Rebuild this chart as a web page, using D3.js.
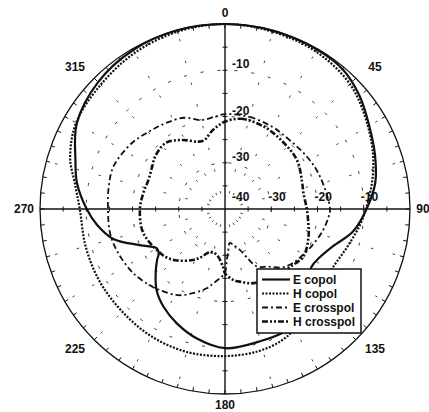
<!DOCTYPE html>
<html>
<head>
<meta charset="utf-8">
<script src="https://cdn.jsdelivr.net/npm/d3@7"></script>
<style>
  html, body { margin: 0; padding: 0; background: #fff; }
  svg { display: block; }
  text { font-family: "Liberation Sans", Arial, Helvetica, sans-serif; font-weight: bold; fill: #111; }
</style>
</head>
<body>
<svg id="chart" width="429" height="412"></svg>
<script>
// Radiation pattern, level in dB vs. angle in degrees (0 = boresight, clockwise)
const eCopolAngles = [0, 15, 30, 40, 50, 60, 70, 80, 90, 100, 109, 117, 124, 135, 145, 153, 166, 180, 192, 203, 212, 220, 227, 233, 236, 240, 247, 255, 263, 270, 280, 288, 300, 315, 330, 345];
const eCopolDb     = [0, -0.1, -0.2, -0.5, -2, -4, -5.5, -7, -9.4, -11.9, -15.3, -17, -17.5, -15, -12.5, -10.6, -10.4, -9.9, -11.3, -13.2, -15, -17, -19.5, -21.6, -22.7, -23, -20, -15, -12.1, -10.1, -7.5, -6, -3, -1.2, -0.3, 0];

const hCopolAngles = [0, 15, 30, 45, 60, 75, 93, 105, 120, 135, 150, 157, 167, 180, 195, 210, 225, 240, 255, 270, 280, 288, 300, 315, 330, 345];
const hCopolDb     = [0, -0.3, -0.7, -1.8, -4.3, -6.8, -10, -12, -13.5, -12.2, -10, -9, -8.4, -8.2, -8, -8.2, -8.6, -8.7, -8.8, -8.6, -7, -4.8, -2.8, -2, -1, -0.3];

const eCrossAngles = [0, 15, 30, 38, 57, 71, 90, 95, 103, 113, 121, 129, 136, 143, 151, 156, 160, 167, 172, 176, 178, 180, 183, 189, 193, 201, 209, 219, 223, 235, 248, 258, 270, 281, 291, 305, 315, 325, 336, 345, 354];
const eCrossDb     = [-19.5, -19.4, -19.5, -19.6, -19, -18.3, -17.3, -17.6, -18.4, -19.6, -20.5, -21.3, -22.4, -24.4, -25.8, -28.7, -30.6, -32, -32.6, -30.5, -29, -26.2, -25.3, -23.7, -22.4, -20.5, -18.7, -17.5, -17, -15.8, -15, -14.6, -14.7, -14.4, -14.2, -15.3, -16.5, -17.4, -18.4, -20.1, -19.9];

const hCrossAngles = [0, 10, 25, 40, 56, 70, 79, 90, 100, 108, 121, 132, 145, 155, 161, 167, 173, 180, 182, 190, 199, 206, 212, 223, 231, 239, 248, 256, 270, 281, 291, 300, 307, 318, 328, 338, 343, 350, 355];
const hCrossDb     = [-21.1, -20.2, -20.3, -20.8, -21.2, -22.3, -22.7, -22.3, -21.7, -21, -20.2, -21.2, -22, -22.6, -23, -23.8, -24.5, -26.1, -27.5, -29.9, -30.2, -28.5, -27, -24.8, -23.5, -22.8, -22, -21.5, -21.6, -22, -22.3, -21.8, -21.1, -20.8, -22.4, -24.3, -24.5, -23, -22];

const seriesNames = ["E copol", "H copol", "E crosspol", "H crosspol"];
const angleLabels = [0, 45, 90, 135, 180, 225, 270, 315];
const ringLevels = [-30, -20, -10];
const verticalLevelLabels = [-40, -30, -20, -10];
const horizontalLevelLabels = [-30, -20, -10];
const dbMin = -40, dbMax = 0;

const svg = d3.select("#chart");
const cx = 225, cy = 209, R = 185;
const g = svg.append("g").attr("transform", `translate(${cx},${cy})`);

const r = d3.scaleLinear().domain([dbMin, dbMax]).range([0, R]);
const rad = d => d * Math.PI / 180;
const px = (deg, rr) => rr * Math.sin(rad(deg));
const py = (deg, rr) => -rr * Math.cos(rad(deg));

// dashed level rings
g.selectAll("circle.ring").data(ringLevels).join("circle")
  .attr("r", d => r(d)).attr("fill", "none")
  .attr("stroke", "#333").attr("stroke-width", 1)
  .attr("stroke-dasharray", "3,14");

// sparse dashed spokes
const spokes = d3.range(15, 360, 15).filter(a => a % 90 !== 0);
g.selectAll("line.spoke").data(spokes).join("line")
  .attr("x1", d => px(d, 16)).attr("y1", d => py(d, 16))
  .attr("x2", d => px(d, R)).attr("y2", d => py(d, R))
  .attr("stroke", "#333").attr("stroke-width", 0.9)
  .attr("stroke-dasharray", "2.5,20");

// outer boundary with inward ticks every 5 degrees
g.append("circle").attr("r", R).attr("fill", "none")
  .attr("stroke", "#111").attr("stroke-width", 1.3);
g.selectAll("line.otick").data(d3.range(0, 360, 5)).join("line")
  .attr("x1", d => px(d, R)).attr("y1", d => py(d, R))
  .attr("x2", d => px(d, R - 4)).attr("y2", d => py(d, R - 4))
  .attr("stroke", "#111").attr("stroke-width", 1);

// main axes
g.append("line").attr("x1", -R).attr("x2", R).attr("y1", 0).attr("y2", 0)
  .attr("stroke", "#111").attr("stroke-width", 1.4);
g.append("line").attr("x1", 0).attr("x2", 0).attr("y1", -R).attr("y2", R)
  .attr("stroke", "#111").attr("stroke-width", 1.4);

// axis ticks every 5 dB
const axisTicks = d3.range(-35, 0, 5);
[0, 90, 180, 270].forEach(a => {
  g.selectAll(null).data(axisTicks).join("line")
    .attr("x1", d => px(a, r(d)) + (a % 180 === 0 ? -2.5 : 0))
    .attr("x2", d => px(a, r(d)) + (a % 180 === 0 ? 2.5 : 0))
    .attr("y1", d => py(a, r(d)) + (a % 180 === 0 ? 0 : -2.5))
    .attr("y2", d => py(a, r(d)) + (a % 180 === 0 ? 0 : 2.5))
    .attr("stroke", "#111").attr("stroke-width", 1);
});

// angle labels
g.selectAll("text.ang").data(angleLabels).join("text")
  .attr("x", d => {
    const s = Math.sin(rad(d)), c = Math.cos(rad(d));
    const extra = Math.abs(c) < 0.01 ? (String(d).length - 2) * 3 : 10 * Math.abs(2 * s * c);
    return px(d, R + 13) + Math.sign(Math.round(s * 1000)) * extra;
  })
  .attr("y", d => {
    const s = Math.sin(rad(d)), c = Math.cos(rad(d));
    if (Math.abs(s) < 0.01) return py(d, R + 11);
    return py(d, R + 13) - (c > 0.1 ? 2 : 0);
  })
  .attr("text-anchor", "middle").attr("dominant-baseline", "central")
  .attr("font-size", 12).text(d => d);

// level labels along the vertical axis
g.selectAll("text.vlab").data(verticalLevelLabels).join("text")
  .attr("x", 7)
  .attr("y", d => Math.min(-r(d) - 2, -8))
  .attr("font-size", 12).text(d => d);

// level labels along the horizontal axis
g.selectAll("text.hlab").data(horizontalLevelLabels).join("text")
  .attr("x", d => r(d) - 3)
  .attr("y", -8)
  .attr("font-size", 12).text(d => d);

// pattern traces
const radial = d3.lineRadial()
  .angle(d => rad(d[0]))
  .radius(d => r(d[1]))
  .curve(d3.curveCatmullRomClosed.alpha(0.5));

const series = [
  { name: seriesNames[0], a: eCopolAngles, v: eCopolDb, width: 2.2, dash: null },
  { name: seriesNames[1], a: hCopolAngles, v: hCopolDb, width: 2.2, dash: "2,1.5" },
  { name: seriesNames[2], a: eCrossAngles, v: eCrossDb, width: 1.8, dash: "6,3,2,3" },
  { name: seriesNames[3], a: hCrossAngles, v: hCrossDb, width: 2.6, dash: "6,2,2,2,2,2" }
];

series.forEach(s => {
  const pts = s.a.map((ang, i) => [ang, s.v[i]]);
  g.append("path").datum(pts)
    .attr("d", radial)
    .attr("fill", "none")
    .attr("stroke", "#111")
    .attr("stroke-width", s.width)
    .attr("stroke-linejoin", "round")
    .attr("stroke-dasharray", s.dash);
});

// legend
const lg = svg.append("g").attr("transform", "translate(257,269)");
lg.append("rect").attr("width", 104).attr("height", 64)
  .attr("fill", "#fff").attr("stroke", "#111").attr("stroke-width", 1.5);
series.forEach((s, i) => {
  const y = 10.5 + i * 14;
  lg.append("line").attr("x1", 5).attr("x2", 33).attr("y1", y).attr("y2", y)
    .attr("stroke", "#111").attr("stroke-width", s.width)
    .attr("stroke-dasharray", s.dash);
  lg.append("text").attr("x", 36).attr("y", y).attr("dominant-baseline", "central")
    .attr("font-size", 12).text(s.name);
});
</script>
</body>
</html>
